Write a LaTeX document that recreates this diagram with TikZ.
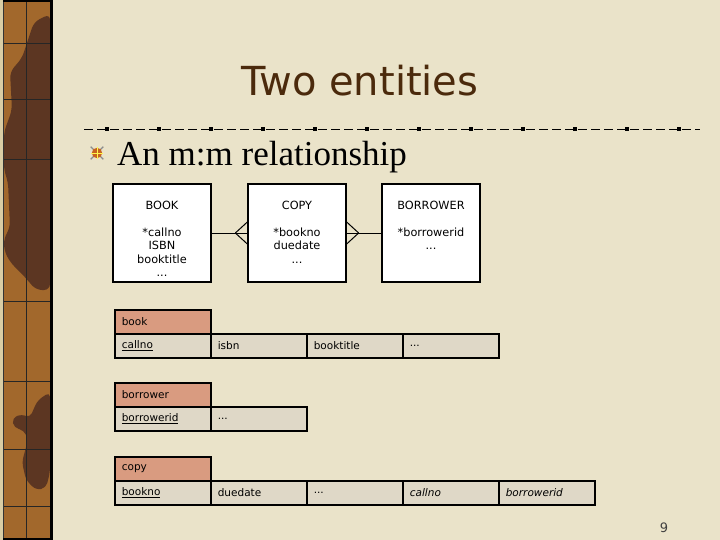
\documentclass[tikz,border=0pt]{standalone}
\usepackage{fontspec}
\setmainfont{DejaVu Sans}
\newfontfamily\subfont{Liberation Serif}
\usetikzlibrary{calc}
\definecolor{bg}{HTML}{EAE3C9}
\definecolor{strip}{HTML}{A2682C}
\definecolor{stripdark}{HTML}{5C3622}
\definecolor{stripedge}{HTML}{D9CDA5}
\definecolor{titlec}{HTML}{4B2A0C}
\definecolor{hdr}{HTML}{D99B80}
\definecolor{cellc}{HTML}{DFD8C7}
\definecolor{bulletc}{HTML}{C8641E}
\tikzset{
  erbox/.style={draw, fill=white, line width=1.3pt, minimum width=98pt, minimum height=98pt},
  ertext/.style={align=center, anchor=north, inner sep=0pt, font=\fontsize{11.3}{13.5}\selectfont},
  conn/.style={line width=1pt},
  cell/.style={draw, line width=1.6pt, fill=cellc, minimum height=24pt, text width=82pt,
     inner xsep=7pt, inner ysep=0pt, align=left, anchor=north west, font=\fontsize{10.5}{12}\selectfont},
  hcell/.style={cell, fill=hdr},
  gridline/.style={line width=0.8pt, black!85}
}
\begin{document}
\begin{tikzpicture}[x=1pt,y=-1pt]
\useasboundingbox (0,0) rectangle (720,540);
\fill[bg] (0,0) rectangle (720,540);
% left decorative strip
\fill[stripedge] (0,0) rectangle (3,540);
\fill[strip] (3,0) rectangle (52,540);
\fill[stripdark, rounded corners=6pt] (34,22) -- (50,14) -- (50,290) -- (36,290) -- (24,276)
  -- (10,262) -- (4,250) -- (4,238) -- (10,228) -- (8,182) -- (4,170) -- (4,132)
  -- (12,110) -- (10,72) -- (22,58) -- (28,40) -- cycle;
\fill[stripdark, rounded corners=5pt] (38,400) -- (50,392) -- (50,472) -- (46,488) -- (36,490)
  -- (26,480) -- (22,462) -- (28,440) -- (24,430) -- (14,428) -- (12,418) -- (22,414)
  -- (30,418) -- (34,408) -- cycle;
\draw[gridline] (26,0) -- (26,540);
\foreach \yy in {43,99,159,301,381,449,506}
  \draw[gridline] (3,\yy) -- (51,\yy);
\draw[line width=1pt, black!80] (3.5,0) -- (3.5,540);
\draw[line width=3pt] (51.5,0) -- (51.5,540);
\draw[line width=1.5pt] (3,0.8) -- (53,0.8) (3,539.2) -- (53,539.2);
% title
\node[anchor=base, text=titlec, font=\fontsize{40}{48}\selectfont, inner sep=0pt] (title) at (360,96) {Two entities};
% dotted rule
\draw[line width=0.8pt, dash pattern=on 9pt off 4pt] (84,129) -- (700,129);
\foreach \i in {0,...,11}
  \fill ({105+52*\i},127) rectangle ({109+52*\i},131);
% bullet
\foreach \a in {45,135,225,315}
  \draw[black!45, line width=1.3pt] (97,153) -- ++(\a:9);
\fill[bulletc] (97,153) circle (5.2);
\draw[yellow!70!white, line width=0.9pt] (91,153) -- (103,153) (97,147) -- (97,159);
\node[anchor=base west, inner sep=0pt, font=\subfont\fontsize{35}{40}\selectfont] (sub) at (117,166) {An m:m relationship};
% ER diagram
\node[erbox] (book) at (162,233) {};
\node[erbox] (copy) at (297,233) {};
\node[erbox] (borrower) at (431,233) {};
\node[ertext] (booktxt) at (162,200.5) {BOOK\\[13.5pt]*callno\\ISBN\\booktitle\\...};
\node[ertext] (copytxt) at (297,200.5) {COPY\\[13.5pt]*bookno\\duedate\\...};
\node[ertext] (borrowertxt) at (431,200.5) {BORROWER\\[13.5pt]*borrowerid\\...};
\coordinate (cfa) at ($(copy.west)+(-12,0)$);
\coordinate (cfb) at ($(copy.east)+(12,0)$);
\draw[conn] (book.east) -- (copy.west);
\draw[conn] (cfa) -- ($(copy.west)+(0,-11)$) (cfa) -- ($(copy.west)+(0,11)$);
\draw[conn] (copy.east) -- (borrower.west);
\draw[conn] (cfb) -- ($(copy.east)+(0,-11)$) (cfb) -- ($(copy.east)+(0,11)$);
% tables
\node[hcell] (bookh) at (114,309) {book};
\node[cell] (b1) at (114,333) {\underline{callno}};
\node[cell] (b2) at (210,333) {isbn};
\node[cell] (b3) at (306,333) {booktitle};
\node[cell] (b4) at (402,333) {...};
\node[hcell] (borh) at (114,382) {borrower};
\node[cell] (r1) at (114,406) {\underline{borrowerid}};
\node[cell] (r2) at (210,406) {...};
\node[hcell] (copyh) at (114,456) {copy};
\node[cell] (c1) at (114,480) {\underline{bookno}};
\node[cell] (c2) at (210,480) {duedate};
\node[cell] (c3) at (306,480) {...};
\node[cell] (c4) at (402,480) {\textit{callno}};
\node[cell] (c5) at (498,480) {\textit{borrowerid}};
% page number
\node[font=\fontsize{13}{15}\selectfont, text=black!75] (pg) at (664,528) {9};
\end{tikzpicture}
\end{document}
